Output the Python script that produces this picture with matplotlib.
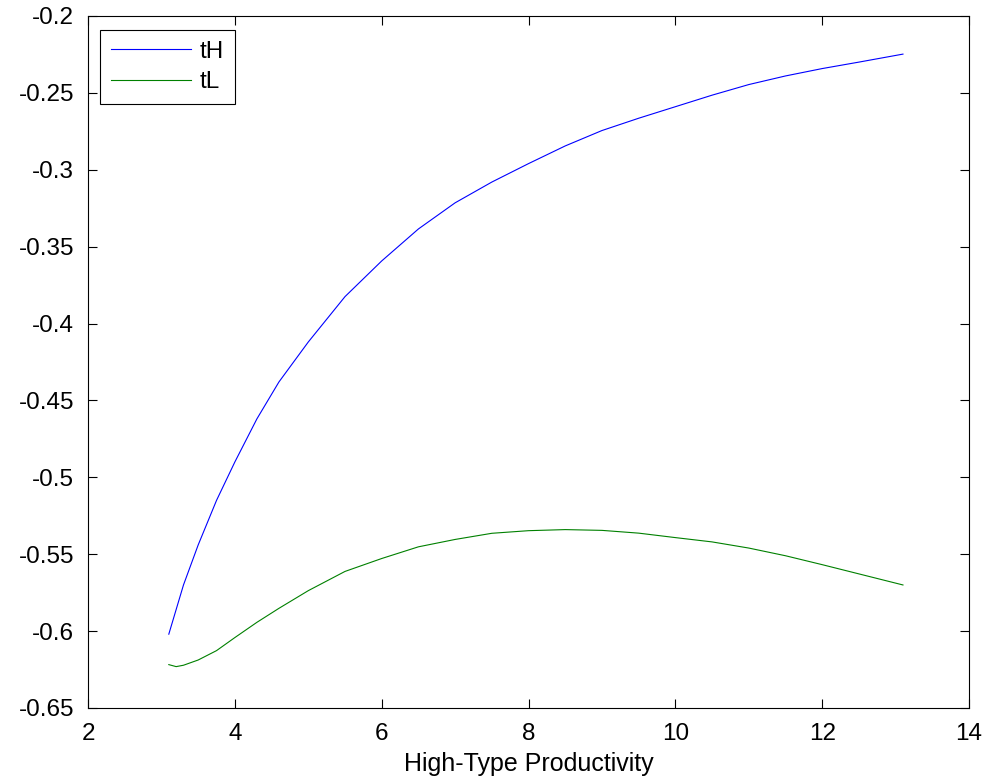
import numpy as np
import matplotlib
matplotlib.use("Agg")
import matplotlib.pyplot as plt

# Werte
prod = [3.1, 3.2, 3.3, 3.5, 3.75, 4.0, 4.3, 4.6, 5.0, 5.5, 6.0, 6.5, 7.0, 7.5,
        8.0, 8.5, 9.0, 9.5, 10.0, 10.5, 11.0, 11.5, 12.0, 12.5, 13.1]
tH = [-0.602, -0.586, -0.570, -0.544, -0.515, -0.490, -0.462, -0.438, -0.412,
      -0.3825, -0.3593, -0.3385, -0.3215, -0.308, -0.296, -0.2845, -0.2745,
      -0.2665, -0.259, -0.2515, -0.2446, -0.2390, -0.2342, -0.2300, -0.2248]
tL = [-0.6218, -0.6231, -0.6222, -0.6188, -0.6127, -0.6042, -0.5943, -0.5852,
      -0.5737, -0.5612, -0.5528, -0.5452, -0.5404, -0.5364, -0.5347, -0.5340,
      -0.5345, -0.5363, -0.5392, -0.5420, -0.5460, -0.5510, -0.5568, -0.5628,
      -0.5700]

x_ticks = [2, 4, 6, 8, 10, 12, 14]
y_ticks = [-0.65, -0.6, -0.55, -0.5, -0.45, -0.4, -0.35, -0.3, -0.25, -0.2]

plt.rcParams['font.family'] = ['Liberation Sans', 'DejaVu Sans']

fig = plt.figure(figsize=(9.87, 7.83), dpi=100)
ax = fig.add_axes([0.0892, 0.0958, 0.8926, 0.8838])

ax.plot(prod, tH, color=(0, 0, 1), lw=0.8, label="tH")
ax.plot(prod, tL, color=(0, 0.5, 0), lw=0.8, label="tL")

ax.set_xlim(2, 14)
ax.set_ylim(-0.65, -0.2)
ax.set_xticks(x_ticks)
ax.set_xticklabels([str(t) for t in x_ticks])
ax.set_yticks(y_ticks)
ax.set_yticklabels([("%g" % t) for t in y_ticks])
ax.tick_params(direction="in", length=6.5, width=0.8, top=True, right=True,
               labelsize=17.5)
ax.tick_params(axis="x", pad=11)
ax.tick_params(axis="y", pad=10)
for s in ax.spines.values():
    s.set_linewidth(0.8)

ax.set_xlabel("High-Type Productivity", fontsize=18, labelpad=5)

leg = ax.legend(loc="upper left", bbox_to_anchor=(0.0136, 0.9798),
                fontsize=17.5, fancybox=False, framealpha=1,
                edgecolor="black", handlelength=3.3, handletextpad=0.35,
                borderpad=0.45, labelspacing=0.35, borderaxespad=0)
leg.get_frame().set_linewidth(0.8)

fig.savefig("out.png", dpi=100)
